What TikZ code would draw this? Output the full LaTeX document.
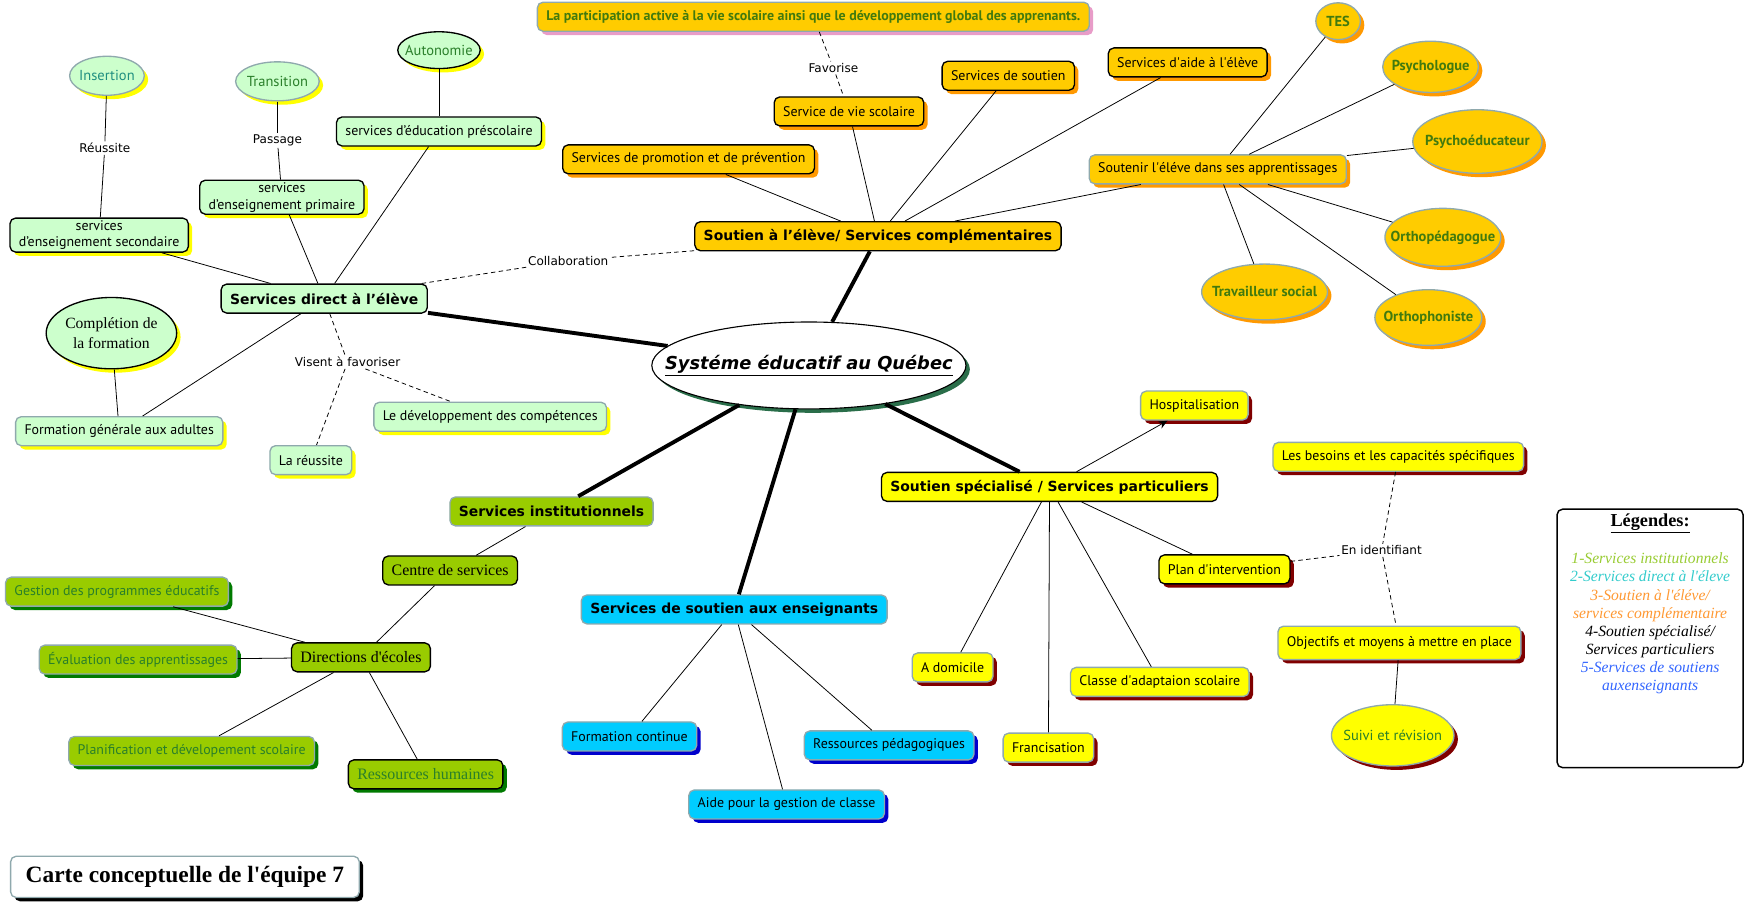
\documentclass[tikz,border=0pt]{standalone}
\usepackage{fontspec}
\setmainfont{PT Sans}
\newfontfamily\verd{DejaVu Sans}
\newfontfamily\tms{Liberation Serif}
\usetikzlibrary{shapes.geometric,shadows,arrows.meta}
\newcommand{\ap}{\textquotesingle}
\newcommand{\mb}[1]{\makebox[0pt]{#1}}

\definecolor{vclair}{HTML}{CCFFCC}
\definecolor{grisbleu}{HTML}{8FA9AD}
\definecolor{jaune}{HTML}{FFFF00}
\definecolor{orange1}{HTML}{FFCC00}
\definecolor{orange2}{HTML}{FF9900}
\definecolor{olive}{HTML}{99CC00}
\definecolor{vfonce}{HTML}{007A00}
\definecolor{cyan1}{HTML}{00CCFF}
\definecolor{bleu}{HTML}{0000CC}
\definecolor{bordeaux}{HTML}{800000}
\definecolor{rose}{HTML}{E89CC8}
\definecolor{vsys}{HTML}{2A6E4A}
\definecolor{txtvert}{HTML}{427A0E}
\definecolor{txtgreen}{HTML}{2A7F2A}
\definecolor{txtteal}{HTML}{1F8F80}
\definecolor{legolive}{HTML}{99CC33}
\definecolor{legteal}{HTML}{33CCCC}
\definecolor{legorange}{HTML}{FF9933}
\definecolor{legbleu}{HTML}{3366FF}

\tikzset{
  bte/.style={rounded corners=5pt, draw=grisbleu, line width=1.2pt, minimum height=26pt,
    inner xsep=8pt, inner ysep=2pt, font=\fontsize{12.5}{14}\selectfont},
  ovale/.style={ellipse, draw=grisbleu, line width=1.2pt, inner sep=0pt, font=\fontsize{13}{15}\selectfont},
  ombre/.style={drop shadow={shadow xshift=3.5pt, shadow yshift=-3.5pt, fill=#1, opacity=1}},
  titre/.style={font=\verd\bfseries\fontsize{12.5}{14}\selectfont},
  serif/.style={font=\tms\fontsize{14.3}{16}\selectfont},
  orv/.style={ovale, fill=orange1, ombre=orange2, text=txtvert, font=\bfseries\fontsize{13}{15}\selectfont},
  lien/.style={line width=0.7pt},
  tronc/.style={line width=3.5pt},
  pointille/.style={line width=0.7pt, dash pattern=on 4pt off 3pt},
  etiq/.style={inner sep=1.5pt, font=\verd\fontsize{10.8}{12}\selectfont},
}

\begin{document}
\begin{tikzpicture}[x=1pt, y=-1pt, >={Stealth[length=8pt,width=7pt]}, line join=round]
  \useasboundingbox (0,0) rectangle (1568,812);

  % centre
  \node[ovale, draw=black, line width=1pt, fill=white, ombre=vsys, minimum width=282, minimum height=78,
    font=\verd\bfseries\itshape\fontsize{16}{18}\selectfont] (sys) at (726,328) {\mb{\underline{Systéme éducatif au Québec}}};

  % soutien a l'eleve / services complementaires
  \node[bte, draw=black, fill=orange1, titre] (comp) at (788,212) {Soutien à l’élève/ Services complémentaires};
  \node[bte, draw=black, fill=orange1, ombre=orange2] (promo) at (618,143) {Services de promotion et de prévention};
  \node[bte, draw=black, fill=orange1, ombre=orange2] (viesco) at (762,100) {Service de vie scolaire};
  \node[bte, draw=black, fill=orange1, ombre=orange2] (soutien) at (905,68) {Services de soutien};
  \node[bte, draw=black, fill=orange1, ombre=orange2] (aide) at (1066,56) {Services d\ap aide à l\ap élève};
  \node[bte, fill=orange1, ombre=rose, text=txtvert, font=\bfseries\fontsize{12.5}{14}\selectfont] (particip) at (730,15)
    {La participation active à la vie scolaire ainsi que le développement global des apprenants.};
  \node[bte, fill=orange1, ombre=orange2] (soutenir) at (1093,152) {Soutenir l\ap éléve dans ses apprentissages};
  \node[orv, minimum width=40, minimum height=33] (tes) at (1201,19) {\mb{TES}};
  \node[orv, minimum width=86, minimum height=46] (psycho) at (1284,60) {\mb{Psychologue}};
  \node[orv, minimum width=116, minimum height=57] (psyed) at (1326,127) {\mb{Psychoéducateur}};
  \node[orv, minimum width=104, minimum height=52] (orthoped) at (1295,213) {\mb{Orthopédagogue}};
  \node[orv, minimum width=96, minimum height=50] (orthoph) at (1282,285) {\mb{Orthophoniste}};
  \node[orv, minimum width=113, minimum height=50] (travail) at (1135,262) {\mb{Travailleur social}};
  \node[etiq] (fav) at (748,61) {Favorise};

  % services direct a l'eleve
  \node[bte, draw=black, fill=vclair, titre] (dir) at (291,268) {Services direct à l’élève};
  \node[bte, draw=black, fill=vclair, ombre=jaune] (presco) at (394,118) {services d’éducation préscolaire};
  \node[bte, draw=black, fill=vclair, ombre=jaune, align=center, font=\fontsize{12.5}{15}\selectfont] (prim) at (253,177)
    {services\\d’enseignement primaire};
  \node[bte, draw=black, fill=vclair, ombre=jaune, align=center, font=\fontsize{12.5}{15}\selectfont] (second) at (89,211)
    {services\\d’enseignement secondaire};
  \node[bte, fill=vclair, ombre=jaune] (adultes) at (107,387) {Formation générale aux adultes};
  \node[bte, fill=vclair, ombre=jaune] (reussite) at (279,413) {La réussite};
  \node[bte, fill=vclair, ombre=jaune] (devcomp) at (440,374) {Le développement des compétences};
  \node[ovale, fill=vclair, ombre=jaune, text=txtteal, minimum width=67, minimum height=35] (insert) at (96,68) {\mb{Insertion}};
  \node[ovale, fill=vclair, ombre=jaune, text=txtgreen, minimum width=75, minimum height=35] (trans) at (249,73) {\mb{Transition}};
  \node[ovale, draw=black, fill=vclair, ombre=jaune, text=txtgreen, minimum width=74, minimum height=33] (auto) at (394,45) {\mb{Autonomie}};
  \node[ovale, draw=black, fill=vclair, ombre=jaune, align=center, font=\tms\fontsize{14}{18}\selectfont,
    minimum width=117, minimum height=64] (complet) at (100,299) {Complétion de\\la formation};
  \node[etiq] (reus) at (94,133) {Réussite};
  \node[etiq] (pass) at (249,126) {Passage};
  \node[etiq] (visent) at (312,325) {Visent à favoriser};
  \node[etiq] (collab) at (510,234) {Collaboration};

  % services institutionnels
  \node[bte, fill=olive, titre] (inst) at (495,459) {Services institutionnels};
  \node[bte, draw=black, fill=olive, serif] (centre) at (404,512) {Centre de services};
  \node[bte, draw=black, fill=olive, serif] (direc) at (324,590) {Directions d\ap écoles};
  \node[bte, fill=olive, ombre=vfonce, text=txtgreen] (gestion) at (105,531) {Gestion des programmes éducatifs};
  \node[bte, fill=olive, ombre=vfonce, text=txtgreen] (evalu) at (124,592) {Évaluation des apprentissages};
  \node[bte, fill=olive, ombre=vfonce, text=txtgreen] (planif) at (172,674) {Planification et dévelopement scolaire};
  \node[bte, draw=black, fill=olive, ombre=vfonce, serif, text=txtgreen] (rh) at (382,695) {Ressources humaines};

  % services de soutien aux enseignants
  \node[bte, fill=cyan1, titre] (ens) at (659,547) {Services de soutien aux enseignants};
  \node[bte, fill=cyan1, ombre=bleu] (formcont) at (565,661) {Formation continue};
  \node[bte, fill=cyan1, ombre=bleu] (gestcl) at (706,722) {Aide pour la gestion de classe};
  \node[bte, fill=cyan1, ombre=bleu] (resped) at (798,669) {Ressources pédagogiques};

  % soutien specialise / services particuliers
  \node[bte, draw=black, fill=jaune, titre] (spec) at (942,437) {Soutien spécialisé / Services particuliers};
  \node[bte, fill=jaune, ombre=bordeaux] (hosp) at (1072,364) {Hospitalisation};
  \node[bte, fill=jaune, ombre=bordeaux] (adom) at (855,599) {A domicile};
  \node[bte, fill=jaune, ombre=bordeaux] (franc) at (941,671) {Francisation};
  \node[bte, fill=jaune, ombre=bordeaux] (classe) at (1041,612) {Classe d\ap adaptaion scolaire};
  \node[bte, draw=black, fill=jaune, ombre=bordeaux] (plan) at (1099,511) {Plan d\ap intervention};
  \node[bte, fill=jaune, ombre=bordeaux] (besoins) at (1255,410) {Les besoins et les capacités spécifiques};
  \node[bte, fill=jaune, ombre=bordeaux, minimum height=30] (objectifs) at (1256,577) {Objectifs et moyens à mettre en place};
  \node[ovale, fill=jaune, ombre=bordeaux, text=txtgreen, minimum width=110, minimum height=55] (suivi) at (1250,660) {\mb{Suivi et révision}};
  \node[etiq] (ident) at (1240,494) {En identifiant};

  % legende et titre
  \node[draw=black, line width=1.3pt, rounded corners=5pt, fill=white, minimum width=167, minimum height=232] (leg) at (1481,573) {};
  \node[anchor=north, align=center, inner sep=0pt, font=\tms\itshape\fontsize{14}{16.2}\selectfont] (legtxt) at ([yshift=-5pt]leg.north)
    {{\upshape\bfseries\fontsize{16.4}{18}\selectfont\underline{Légendes:}}\\[17pt]
     \textcolor{legolive}{1-Services institutionnels}\\
     \textcolor{legteal}{2-Services direct à l\ap éleve}\\
     \textcolor{legorange}{3-Soutien à l\ap éléve/}\\
     \textcolor{legorange}{services complémentaire}\\
     4-Soutien spécialisé/\\
     Services particuliers\\
     \textcolor{legbleu}{5-Services de soutiens}\\
     \textcolor{legbleu}{auxenseignants}};
  \node[bte, fill=white, ombre=black, inner xsep=4pt, minimum width=313, minimum height=37,
    font=\tms\bfseries\fontsize{21}{24}\selectfont] (carte) at (166,787) {Carte conceptuelle de l\ap équipe 7};

  % liens principaux
  \draw[tronc] (sys) -- (comp);
  \draw[tronc] (sys) -- (dir);
  \draw[tronc] (sys) -- (inst);
  \draw[tronc] (sys) -- (ens);
  \draw[tronc] (sys) -- (spec);

  % liens secondaires
  \foreach \a in {promo,viesco,soutien,aide,soutenir} \draw[lien] (comp) -- (\a);
  \foreach \a in {tes,psycho,psyed,orthoped,orthoph,travail} \draw[lien] (soutenir) -- (\a);
  \foreach \a in {presco,prim,second,adultes} \draw[lien] (dir) -- (\a);
  \draw[lien] (auto) -- (presco);
  \draw[lien] (trans) -- (pass);
  \draw[lien] (pass) -- (prim);
  \draw[lien] (insert) -- (reus);
  \draw[lien] (reus) -- (second);
  \draw[lien] (complet) -- (adultes);
  \draw[lien] (inst) -- (centre);
  \draw[lien] (centre) -- (direc);
  \foreach \a in {gestion,evalu,planif,rh} \draw[lien] (direc) -- (\a);
  \foreach \a in {formcont,gestcl,resped} \draw[lien] (ens) -- (\a);
  \foreach \a in {adom,franc,classe,plan} \draw[lien] (spec) -- (\a);
  \draw[lien,->] (spec) -- (hosp);
  \draw[lien] (objectifs) -- (suivi);

  % liens en pointille
  \draw[pointille] (particip) -- (fav);
  \draw[pointille] (fav) -- (viesco);
  \draw[pointille] (comp) -- (collab);
  \draw[pointille] (collab) -- (dir);
  \draw[pointille] (dir) -- (visent);
  \draw[pointille] (visent) -- (reussite);
  \draw[pointille] (visent) -- (devcomp);
  \draw[pointille] (plan) -- (ident);
  \draw[pointille] (besoins) -- (ident);
  \draw[pointille] (ident) -- (objectifs);
\end{tikzpicture}
\end{document}
